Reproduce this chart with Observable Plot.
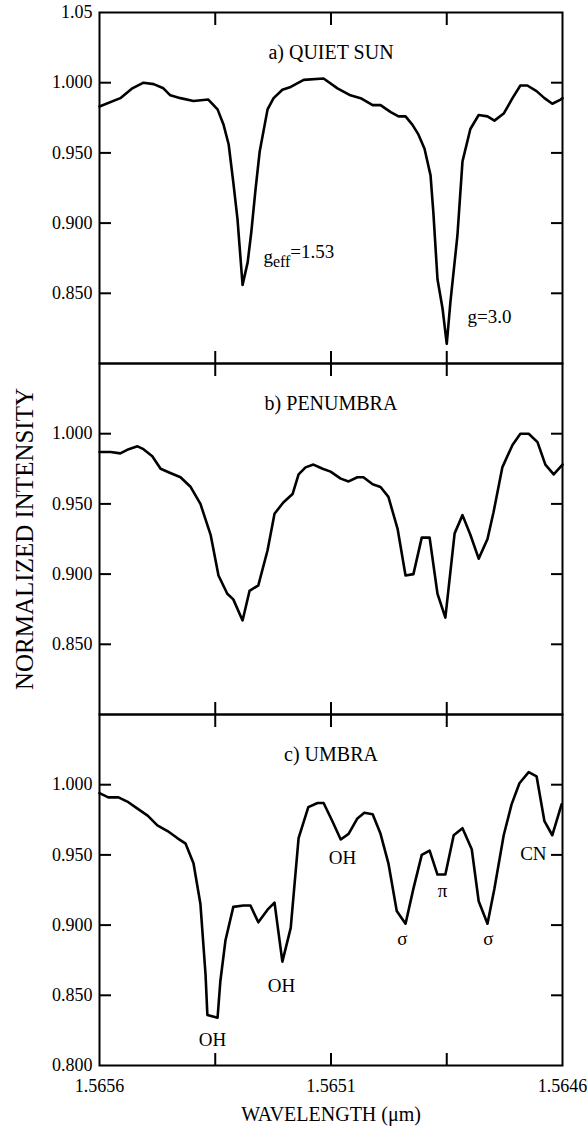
<!DOCTYPE html>
<html><head><meta charset="utf-8">
<script src="https://cdn.jsdelivr.net/npm/d3@7"></script>
<script src="https://cdn.jsdelivr.net/npm/@observablehq/plot@0.6"></script>
<style>body{margin:0;background:#fff;} #chart svg{display:block}</style>
</head><body><div id="chart"></div>
<script>
// Panels
const panels = ["a", "b", "c"];
const panelTitles = ["a) QUIET SUN", "b) PENUMBRA", "c) UMBRA"];

// a) Quiet Sun
const wlQuiet = [1.565600,1.565555,1.565529,1.565505,1.565483,1.565462,1.565447,1.565425,1.565397,1.565365,1.565345,1.565332,1.565321,1.565311,1.565302,1.565291,1.565280,1.565272,1.565263,1.565254,1.565237,1.565224,1.565205,1.565187,1.565159,1.565116,1.565086,1.565058,1.565036,1.565010,1.564993,1.564971,1.564954,1.564939,1.564924,1.564911,1.564898,1.564885,1.564879,1.564870,1.564859,1.564850,1.564842,1.564827,1.564816,1.564799,1.564781,1.564762,1.564747,1.564727,1.564708,1.564691,1.564676,1.564656,1.564639,1.564622,1.564604,1.564600];
const intQuiet = [0.983,0.989,0.996,1.000,0.999,0.996,0.991,0.989,0.987,0.988,0.981,0.970,0.956,0.929,0.903,0.856,0.872,0.894,0.924,0.951,0.981,0.989,0.995,0.997,1.002,1.003,0.996,0.991,0.989,0.984,0.984,0.979,0.976,0.976,0.970,0.963,0.953,0.934,0.908,0.860,0.839,0.814,0.844,0.891,0.944,0.967,0.977,0.976,0.973,0.978,0.989,0.998,0.998,0.994,0.989,0.985,0.988,0.989];

// b) Penumbra
const wlPenumbra = [1.565600,1.565576,1.565555,1.565537,1.565518,1.565505,1.565486,1.565468,1.565447,1.565425,1.565403,1.565382,1.565360,1.565343,1.565324,1.565311,1.565291,1.565276,1.565257,1.565237,1.565222,1.565203,1.565183,1.565170,1.565155,1.565138,1.565118,1.565101,1.565079,1.565062,1.565043,1.565030,1.565010,1.564993,1.564976,1.564956,1.564939,1.564922,1.564904,1.564887,1.564870,1.564853,1.564833,1.564816,1.564799,1.564781,1.564762,1.564749,1.564730,1.564708,1.564691,1.564673,1.564654,1.564637,1.564619,1.564600];
const intPenumbra = [0.987,0.987,0.986,0.989,0.991,0.989,0.984,0.975,0.972,0.969,0.962,0.950,0.928,0.899,0.886,0.882,0.867,0.888,0.892,0.917,0.943,0.951,0.957,0.971,0.976,0.978,0.975,0.973,0.968,0.966,0.969,0.969,0.964,0.962,0.955,0.932,0.899,0.900,0.926,0.926,0.886,0.869,0.929,0.942,0.928,0.911,0.925,0.944,0.976,0.992,1.000,1.000,0.994,0.978,0.971,0.978];

// c) Umbra
const wlUmbra = [1.565600,1.565581,1.565559,1.565540,1.565518,1.565496,1.565475,1.565453,1.565432,1.565414,1.565397,1.565382,1.565371,1.565367,1.565345,1.565339,1.565328,1.565311,1.565289,1.565274,1.565257,1.565237,1.565222,1.565205,1.565187,1.565170,1.565149,1.565129,1.565116,1.565097,1.565079,1.565062,1.565043,1.565028,1.565010,1.564993,1.564976,1.564958,1.564939,1.564922,1.564904,1.564887,1.564870,1.564853,1.564835,1.564816,1.564796,1.564781,1.564762,1.564747,1.564727,1.564710,1.564693,1.564673,1.564656,1.564639,1.564622,1.564602];
const intUmbra = [0.994,0.991,0.991,0.988,0.983,0.978,0.971,0.967,0.962,0.958,0.944,0.915,0.865,0.836,0.834,0.860,0.889,0.913,0.914,0.914,0.902,0.911,0.916,0.874,0.898,0.962,0.984,0.987,0.987,0.974,0.961,0.965,0.976,0.980,0.979,0.965,0.944,0.910,0.901,0.926,0.950,0.953,0.936,0.936,0.964,0.969,0.954,0.917,0.901,0.926,0.964,0.986,1.001,1.009,1.006,0.974,0.964,0.986];

// Axis ticks and labels
const xTickMarks = [1.56535, 1.5651, 1.56485];
const xTickLabels = [1.5656, 1.5651, 1.5646];
const yTickMarks = [0.85, 0.90, 0.95, 1.00];
const yLabelsA = [1.05, 1.00, 0.95, 0.90, 0.85];
const yLabelsB = [1.00, 0.95, 0.90, 0.85];
const yLabelsC = [1.00, 0.95, 0.90, 0.85, 0.80];
const xTitle = "WAVELENGTH (μm)";
const yTitle = "NORMALIZED INTENSITY";
const yTitlePanel = "b";
const yTitleAt = 0.925;

// Annotations
const annoPanel = ["a", "a", "c", "c", "c", "c", "c", "c", "c"];
const annoText = ["geff=1.53", "g=3.0", "OH", "OH", "OH", "σ", "π", "σ", "CN"];
const annoX = [1.565246, 1.564805, 1.565356, 1.565207, 1.565075, 1.564946, 1.564859, 1.564760, 1.564663];
const annoY = [0.876, 0.833, 0.818, 0.857, 0.948, 0.890, 0.924, 0.890, 0.951];
const annoAnchor = ["start", "start", "middle", "middle", "middle", "middle", "middle", "middle", "middle"];

// Build tables
const series = [[wlQuiet, intQuiet], [wlPenumbra, intPenumbra], [wlUmbra, intUmbra]];
const lineRows = [];
series.forEach(([wl, it], i) => wl.forEach((w, j) => lineRows.push({panel: panels[i], x: w, y: it[j]})));
const titleRows = panels.map((p, i) => ({panel: p, t: panelTitles[i]}));
const yLabelRows = [];
[yLabelsA, yLabelsB, yLabelsC].forEach((arr, i) => arr.forEach(v => yLabelRows.push({panel: panels[i], v})));
const fmtY = v => (Math.abs(v - 1.05) < 1e-9 ? "1.05" : v.toFixed(3));
const xLabelRows = xTickLabels.map(v => ({panel: "c", v}));
const annoRows = annoText.map((t, i) => ({panel: annoPanel[i], t, x: annoX[i], y: annoY[i], anchor: annoAnchor[i]}));

const chart = Plot.plot({
  width: 587,
  height: 1132,
  marginLeft: 99,
  marginRight: 25,
  marginTop: 11,
  marginBottom: 66,
  style: {fontFamily: "'Liberation Serif', serif", fontSize: "18px", color: "#000", background: "#fff"},
  x: {domain: [1.5656, 1.5646]},
  y: {domain: [0.80, 1.05]},
  fy: {domain: panels, padding: 0, axis: null},
  marks: [
    Plot.axisY({anchor: "left", ticks: yTickMarks, tickSize: 12, dx: 12, fill: "none", stroke: "#000", strokeWidth: 2, label: null}),
    Plot.axisY({anchor: "right", ticks: yTickMarks, tickSize: 12, dx: -12, fill: "none", stroke: "#000", strokeWidth: 2, label: null}),
    Plot.axisX({anchor: "top", ticks: xTickMarks, tickSize: 12, dy: 12, fill: "none", stroke: "#000", strokeWidth: 2, label: null, facetAnchor: null}),
    Plot.axisX({anchor: "bottom", ticks: xTickMarks, tickSize: 12, dy: -12, fill: "none", stroke: "#000", strokeWidth: 2, label: null, facetAnchor: null}),
    Plot.frame({stroke: "#000", strokeWidth: 2}),
    Plot.line(lineRows, {x: "x", y: "y", fy: "panel", stroke: "#000", strokeWidth: 2.6, strokeLinejoin: "round"}),
    Plot.text(titleRows, {fy: "panel", text: "t", frameAnchor: "top", dy: 32, fontSize: 20}),
    Plot.text(yLabelRows, {fy: "panel", y: "v", text: d => fmtY(d.v), frameAnchor: "left", textAnchor: "end", dx: -7, fontSize: 18}),
    Plot.text(xLabelRows, {fy: "panel", x: "v", text: d => d.v.toFixed(4), frameAnchor: "bottom", dy: 26, fontSize: 18}),
    Plot.text([{panel: "c", t: xTitle}], {fy: "panel", text: "t", frameAnchor: "bottom", dy: 55, fontSize: 20}),
    Plot.text([{panel: yTitlePanel, t: yTitle, y: yTitleAt}], {fy: "panel", y: "y", text: "t", frameAnchor: "left", textAnchor: "middle", rotate: -90, dx: -75, fontSize: 25}),
    Plot.text(annoRows.filter(d => d.anchor === "start"), {fy: "panel", x: "x", y: "y", text: "t", textAnchor: "start", fontSize: 19}),
    Plot.text(annoRows.filter(d => d.anchor === "middle"), {fy: "panel", x: "x", y: "y", text: "t", fontSize: 19})
  ]
});

// subscript/superscript for g_eff
d3.select(chart).selectAll("text").each(function() {
  if (this.textContent === "geff=1.53") {
    const t = d3.select(this);
    t.text(null);
    t.append("tspan").text("g");
    t.append("tspan").attr("font-size", 16).attr("dy", 4).text("eff");
    t.append("tspan").attr("dy", -9).text("=1.53");
  }
});

document.getElementById("chart").appendChild(chart);
</script>
</body></html>
